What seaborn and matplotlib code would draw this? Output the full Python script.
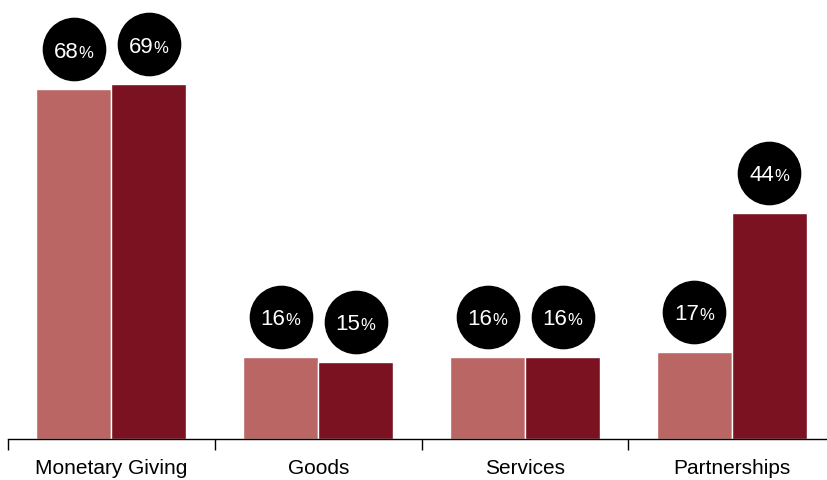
import matplotlib
matplotlib.use("Agg")
import matplotlib.pyplot as plt
import seaborn as sns
import pandas as pd
import numpy as np
from matplotlib.transforms import offset_copy

categories = ["Monetary Giving", "Goods", "Services", "Partnerships"]
series_names = ["Earlier", "Later"]
values_a = [68, 16, 16, 17]
values_b = [69, 15, 16, 44]
colors = ["#b96664", "#7a1221"]

df = pd.DataFrame({
    "category": categories * 2,
    "series": [series_names[0]] * 4 + [series_names[1]] * 4,
    "value": values_a + values_b,
})

sns.set_style("white")
plt.rcParams["font.family"] = ["Liberation Sans", "DejaVu Sans"]
plt.rcParams["xtick.bottom"] = True

fig = plt.figure(figsize=(8.27, 4.81), dpi=100)
ax = fig.add_axes([8 / 827, 41 / 481, 819 / 827, 440 / 481])

sns.barplot(data=df, x="category", y="value", hue="series", order=categories,
            hue_order=series_names, palette=colors, width=0.725, ax=ax,
            edgecolor="white", linewidth=1, legend=False, saturation=1)

ax.set_ylim(0, 85.5)
ax.set_xlim(-0.5, 3.46)

circle_offset = 40 / 1.389  # points above bar top
for cont in ax.containers:
    for bar in cont:
        h = bar.get_height()
        xc = bar.get_x() + bar.get_width() / 2
        tr = offset_copy(ax.transData, fig=fig, x=0, y=circle_offset, units="points")
        ax.scatter([xc], [h], s=2100, color="black", zorder=5,
                   transform=tr, clip_on=False, linewidths=0)
        num = f"{int(h)}"
        ax.annotate(num, (xc, h), xytext=(3.5, circle_offset - 5.5), textcoords="offset points",
                    ha="right", va="baseline", fontsize=16, color="white", zorder=6)
        ax.annotate("%", (xc, h), xytext=(3.5, circle_offset - 5.5), textcoords="offset points",
                    ha="left", va="baseline", fontsize=12, color="white", zorder=6)

for s in ["top", "right", "left"]:
    ax.spines[s].set_visible(False)
ax.spines["bottom"].set_color("black")
ax.spines["bottom"].set_linewidth(1)
ax.set_yticks([])
ax.set_xlabel("")
ax.set_ylabel("")
ax.set_xticks(range(len(categories)))
ax.set_xticklabels(categories, fontsize=15, color="black")
ax.tick_params(axis="x", which="major", length=0, pad=14, bottom=True)
ax.set_xticks(np.arange(-0.5, 3.0, 1.0), minor=True)
ax.tick_params(axis="x", which="minor", length=8, width=1, color="black",
               direction="out", bottom=True)

fig.savefig("out.png", dpi=100)
